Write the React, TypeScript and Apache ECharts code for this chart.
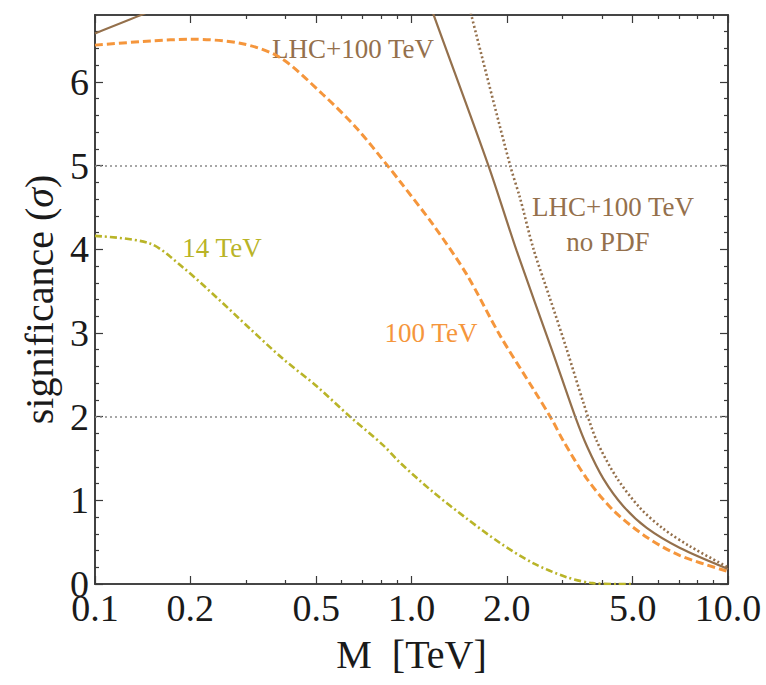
import React, { useEffect, useRef } from "react";
import * as echarts from "echarts";

// ---- data (M in TeV, significance in sigma) ----
const lhc100X = [0.1, 0.144, 0.2, 0.3, 0.5, 0.7, 0.9, 1.0, 1.17, 1.75, 2.15, 2.8, 3.29, 3.59, 4.036, 4.67, 5.535, 7.053, 10];
const lhc100Y = [6.58, 6.82, 7.05, 7.3, 7.6, 7.75, 7.75, 7.55, 6.82, 5.0, 3.98, 2.76, 2.0, 1.64, 1.26, 0.93, 0.67, 0.43, 0.18];

const noPdfX = [1.3, 1.54, 2.05, 2.2, 2.426, 2.74, 3.09, 3.49, 3.848, 4.45, 5.27, 6.246, 7.586, 10];
const noPdfY = [7.92, 6.82, 5.0, 4.62, 4.01, 3.41, 2.81, 2.17, 1.71, 1.27, 0.91, 0.66, 0.45, 0.2];

const tev100X = [0.1, 0.15, 0.2, 0.29, 0.385, 0.525, 0.67, 0.84, 0.92, 1.172, 1.494, 1.904, 2.426, 2.773, 3.018, 3.578, 4.341, 5.535, 7.053, 10];
const tev100Y = [6.44, 6.49, 6.51, 6.46, 6.29, 5.85, 5.45, 5.0, 4.81, 4.29, 3.7, 2.97, 2.33, 1.97, 1.71, 1.26, 0.88, 0.56, 0.34, 0.15];

const tev14X = [0.1, 0.149, 0.19, 0.243, 0.309, 0.393, 0.503, 0.639, 0.813, 0.92, 1.169, 1.497, 1.905, 2.42, 3.1, 3.74, 4.5, 5.0];
const tev14Y = [4.16, 4.07, 3.78, 3.42, 3.05, 2.69, 2.36, 2.0, 1.66, 1.45, 1.1, 0.78, 0.49, 0.25, 0.08, 0.01, 0.0, 0.0];

const thresholdLines = [2, 5];

// ---- ticks ----
const xMajorTicks = [0.1, 0.2, 0.5, 1, 2, 5, 10];
const xMinorTicks = [0.3, 0.4, 0.6, 0.7, 0.8, 0.9, 3, 4, 6, 7, 8, 9];
const yMajorTicks = [0, 1, 2, 3, 4, 5, 6];
const yMinorTicks = [
  0.2, 0.4, 0.6, 0.8, 1.2, 1.4, 1.6, 1.8, 2.2, 2.4, 2.6, 2.8, 3.2, 3.4, 3.6, 3.8,
  4.2, 4.4, 4.6, 4.8, 5.2, 5.4, 5.6, 5.8, 6.2, 6.4, 6.6,
];

const SERIF = '"Liberation Serif", "Times New Roman", serif';
const FRAME = "#3a3a3a";
const BROWN = "#94704c";
const ORANGE = "#f5963c";
const OLIVE = "#b9b428";

const lg = (v: number) => Math.log10(v);
const pts = (xs: number[], ys: number[]) => xs.map((x, i) => [lg(x), ys[i]]);

export default function App() {
  const ref = useRef<HTMLDivElement>(null);
  useEffect(() => {
    if (!ref.current) return;
    const chart = echarts.init(ref.current, undefined, { renderer: "svg" });

    const xBase = (position: string, ticks: number[], len: number, labels: boolean, name?: string) => ({
      type: "value",
      position,
      min: -1,
      max: 1,
      offset: 0,
      name,
      nameLocation: "middle",
      nameGap: 50,
      nameTextStyle: { fontFamily: SERIF, fontSize: 40, color: "#1a1a1a" },
      axisLine: { show: true, onZero: false, lineStyle: { color: FRAME, width: 1.6 } },
      axisTick: { show: true, inside: true, length: len, customValues: ticks.map(lg), lineStyle: { color: FRAME, width: 1.2 } },
      axisLabel: labels
        ? {
            show: true,
            customValues: ticks.map(lg),
            formatter: (v: number) => Math.pow(10, v).toFixed(1),
            fontFamily: SERIF,
            fontSize: 38,
            color: "#1a1a1a",
            margin: 5,
          }
        : { show: false },
      splitLine: { show: false },
    });

    const yBase = (position: string, ticks: number[], len: number, labels: boolean, name?: any) => ({
      type: "value",
      position,
      min: 0,
      max: 6.8,
      offset: 0,
      name,
      nameLocation: "middle",
      nameGap: 36,
      nameTextStyle: {
        fontFamily: SERIF,
        fontSize: 40,
        color: "#1a1a1a",
        rich: { i: { fontFamily: SERIF, fontSize: 40, fontStyle: "italic", color: "#1a1a1a" } },
      },
      axisLine: { show: true, onZero: false, lineStyle: { color: FRAME, width: 1.6 } },
      axisTick: { show: true, inside: true, length: len, customValues: ticks, lineStyle: { color: FRAME, width: 1.2 } },
      axisLabel: labels
        ? { show: true, customValues: ticks, fontFamily: SERIF, fontSize: 38, color: "#1a1a1a", margin: 6 }
        : { show: false },
      splitLine: { show: false },
    });

    const textEl = (text: string, x: number, y: number, color: string, size = 27) => ({
      type: "text",
      x,
      y,
      silent: true,
      style: { text, fill: color, fontFamily: SERIF, fontSize: size, align: "center", verticalAlign: "middle" },
    });

    const curve = (name: string, xs: number[], ys: number[], lineStyle: any) => ({
      name,
      type: "line",
      data: pts(xs, ys),
      showSymbol: false,
      smooth: 0.3,
      clip: true,
      lineStyle,
    });

    chart.setOption({
      animation: false,
      backgroundColor: "#ffffff",
      grid: { left: 95, right: 38, top: 15, bottom: 101, containLabel: false, outerBoundsMode: "none" },
      xAxis: [
        xBase("bottom", xMajorTicks, 8, true, "M  [TeV]"),
        xBase("bottom", xMinorTicks, 4, false),
        xBase("top", xMajorTicks, 8, false),
        xBase("top", xMinorTicks, 4, false),
      ],
      yAxis: [
        yBase("left", yMajorTicks, 8, true, "significance ({i|σ})"),
        yBase("left", yMinorTicks, 4, false),
        yBase("right", yMajorTicks, 8, false),
        yBase("right", yMinorTicks, 4, false),
      ],
      series: [
        {
          name: "thresholds",
          type: "line",
          data: [],
          silent: true,
          markLine: {
            silent: true,
            symbol: ["none", "none"],
            label: { show: false },
            lineStyle: { color: "#8a8a8a", width: 1.6, type: [2, 3] },
            data: thresholdLines.map((v) => ({ yAxis: v })),
          },
        },
        curve("14 TeV", tev14X, tev14Y, { color: OLIVE, width: 2.6, type: [7, 3, 2, 3] }),
        curve("100 TeV", tev100X, tev100Y, { color: ORANGE, width: 3, type: [8, 4] }),
        curve("LHC+100 TeV no PDF", noPdfX, noPdfY, { color: BROWN, width: 2.6, type: [2, 2.5] }),
        curve("LHC+100 TeV", lhc100X, lhc100Y, { color: BROWN, width: 2.2, type: "solid" }),
      ],
      graphic: [
        textEl("LHC+100 TeV", 353, 49, BROWN),
        textEl("LHC+100 TeV", 613, 207, BROWN),
        textEl("no PDF", 608, 242, BROWN),
        textEl("100 TeV", 431, 333, ORANGE),
        textEl("14 TeV", 222, 248, OLIVE),
      ],
    });
    return () => chart.dispose();
  }, []);

  return <div ref={ref} style={{ position: "fixed", left: 0, top: 0, width: 766, height: 685 }} />;
}
